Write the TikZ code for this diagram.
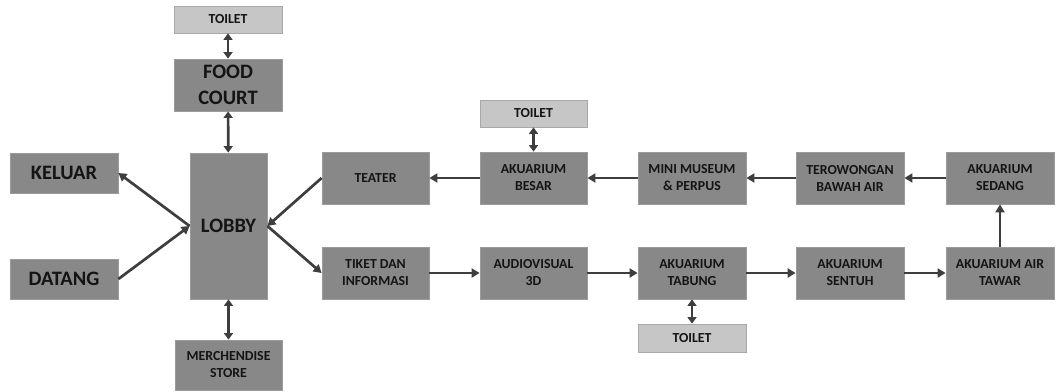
\documentclass[tikz,border=0pt]{standalone}
\usepackage{fontspec}
\setmainfont{Carlito}
\usetikzlibrary{arrows.meta}
\definecolor{boxfill}{RGB}{136,136,136}
\definecolor{boxline}{RGB}{155,155,155}
\definecolor{lightfill}{RGB}{198,198,198}
\definecolor{arrowcol}{RGB}{62,62,62}
\definecolor{txt}{RGB}{20,20,20}
\tikzset{
  box/.style={draw=boxline, line width=0.8pt, fill=boxfill, rectangle, inner sep=0pt,
    align=center, text=txt, font=\bfseries\fontsize{13.8}{17}\selectfont},
  bigbox/.style={box, font=\bfseries\fontsize{20.5}{26}\selectfont},
  toiletbox/.style={box, fill=lightfill, draw=lightfill!85!black},
  conn/.style={draw=arrowcol, line width=2.7pt, -{Triangle[length=8pt,width=9pt]}},
  dconn/.style={draw=arrowcol, line width=2.7pt, {Triangle[length=6.5pt,width=9pt]}-{Triangle[length=6.5pt,width=9pt]}}
}
\begin{document}
\begin{tikzpicture}[x=1pt,y=-1pt]
\useasboundingbox (0,0) rectangle (1056,391);
% left column
\node[toiletbox, minimum width=108pt, minimum height=27pt] (toilet1) at (228,19.5) {TOILET};
\node[bigbox, minimum width=108pt, minimum height=52pt] (food) at (228,85) {FOOD\\COURT};
\node[bigbox, minimum width=77pt, minimum height=146pt] (lobby) at (228.5,226) {LOBBY};
\node[box, minimum width=107pt, minimum height=50pt] (merch) at (228.5,365) {MERCHENDISE\\STORE};
\node[bigbox, minimum width=108pt, minimum height=40pt] (keluar) at (64,173) {KELUAR};
\node[bigbox, minimum width=108pt, minimum height=40pt] (datang) at (64,279) {DATANG};
% top row
\node[box, minimum width=107pt, minimum height=52pt] (teater) at (375.5,178) {TEATER};
\node[box, minimum width=107pt, minimum height=52pt] (besar) at (533.5,178) {AKUARIUM\\BESAR};
\node[box, minimum width=108pt, minimum height=52pt] (museum) at (692,178) {MINI MUSEUM\\\& PERPUS};
\node[box, minimum width=108pt, minimum height=52pt] (terowongan) at (850,178) {TEROWONGAN\\BAWAH AIR};
\node[box, minimum width=108pt, minimum height=52pt] (sedang) at (1000,178) {AKUARIUM\\SEDANG};
\node[toiletbox, minimum width=107pt, minimum height=27pt] (toilet2) at (533.5,113.5) {TOILET};
% bottom row
\node[box, minimum width=107pt, minimum height=52pt] (tiket) at (375.5,273) {TIKET DAN\\INFORMASI};
\node[box, minimum width=107pt, minimum height=52pt] (audio) at (533.5,273) {AUDIOVISUAL\\3D};
\node[box, minimum width=108pt, minimum height=52pt] (tabung) at (692,273) {AKUARIUM\\TABUNG};
\node[box, minimum width=108pt, minimum height=52pt] (sentuh) at (850,273) {AKUARIUM\\SENTUH};
\node[box, minimum width=108pt, minimum height=52pt] (tawar) at (1000,273) {AKUARIUM AIR\\TAWAR};
\node[toiletbox, minimum width=108pt, minimum height=28pt] (toilet3) at (692,338) {TOILET};
% connectors
\draw[dconn] (toilet1) -- (food);
\draw[dconn] (food) -- (lobby);
\draw[dconn] (lobby) -- (merch);
\draw[dconn] (toilet2) -- (besar);
\draw[dconn] (tabung) -- (toilet3);
\draw[conn] (lobby.west) -- (keluar.east);
\draw[conn] (datang.east) -- (lobby.west);
\draw[conn] (teater.west) -- (lobby.east);
\draw[conn] (lobby.east) -- (tiket.west);
\draw[conn] (tiket) -- (audio);
\draw[conn] (audio) -- (tabung);
\draw[conn] (tabung) -- (sentuh);
\draw[conn] (sentuh) -- (tawar);
\draw[conn] (tawar) -- (sedang);
\draw[conn] (sedang) -- (terowongan);
\draw[conn] (terowongan) -- (museum);
\draw[conn] (museum) -- (besar);
\draw[conn] (besar) -- (teater);
\end{tikzpicture}
\end{document}
